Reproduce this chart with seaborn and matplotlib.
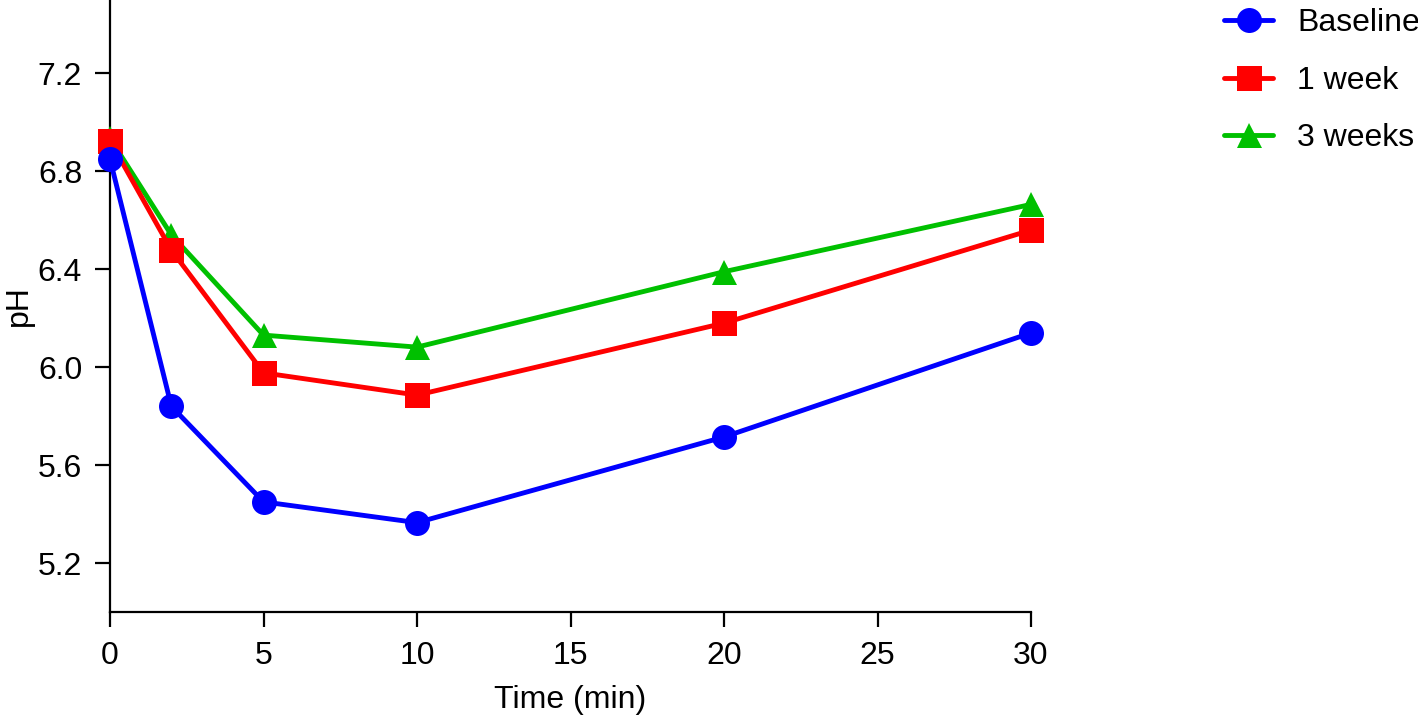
import matplotlib
matplotlib.use("Agg")
import matplotlib.pyplot as plt
import seaborn as sns
import pandas as pd

time_min = [0, 2, 5, 10, 20, 30]
baseline = [6.85, 5.84, 5.45, 5.365, 5.715, 6.14]
one_week = [6.925, 6.478, 5.977, 5.886, 6.18, 6.56]
three_weeks = [6.935, 6.54, 6.131, 6.082, 6.39, 6.665]
series_names = ["Baseline", "1 week", "3 weeks"]
colors = ["#0000FF", "#FF0000", "#00C000"]
marker_shapes = ["o", "s", "^"]

sns.set_style("ticks")
plt.rcParams["font.family"] = ["Liberation Sans", "DejaVu Sans"]
plt.rcParams["text.color"] = "black"
plt.rcParams["axes.labelcolor"] = "black"

rows = []
for name, vals in zip(series_names, [baseline, one_week, three_weeks]):
    for t, v in zip(time_min, vals):
        rows.append({"Time": t, "pH": v, "Series": name})
df = pd.DataFrame(rows)

fig = plt.figure(figsize=(14.18, 7.17), dpi=100)
ax = fig.add_axes([110/1418, (717-612)/717, (1031-110)/1418, 612/717])

LW = 3.5
sns.lineplot(data=df, x="Time", y="pH", hue="Series", style="Series",
             hue_order=series_names, style_order=series_names,
             palette=dict(zip(series_names, colors)),
             markers=dict(zip(series_names, marker_shapes)),
             dashes=False, linewidth=LW, markersize=18, markeredgewidth=0,
             ax=ax, legend=False)
for i, ln in enumerate(ax.lines):
    ln.set_clip_on(False)
    ln.set_zorder(5 - i)

FS = 23
ax.set_xlim(0, 30)
ax.set_ylim(5.0, 7.5)
ax.set_xticks([0, 5, 10, 15, 20, 25, 30])
ax.set_yticks([5.2, 5.6, 6.0, 6.4, 6.8, 7.2])
ax.set_yticklabels(["5.2", "5.6", "6.0", "6.4", "6.8", "7.2"])
for s in ["top", "right"]:
    ax.spines[s].set_visible(False)
for s in ["left", "bottom"]:
    ax.spines[s].set_linewidth(1.6)
    ax.spines[s].set_color("black")
ax.tick_params(axis="both", length=11, width=1.6, labelsize=FS, colors="black")
ax.tick_params(axis="y", pad=9)
ax.tick_params(axis="x", pad=10)
ax.set_xlabel("Time (min)", fontsize=FS, labelpad=10, color="black")
ax.set_ylabel("pH", fontsize=FS, labelpad=3, color="black")

handles = [plt.Line2D([], [], color=c, marker=m, markersize=18, markeredgewidth=0, linewidth=LW)
           for c, m in zip(colors, marker_shapes)]
ax.legend(handles, series_names, loc="upper left", bbox_to_anchor=(1211/1418, 1.006),
          bbox_transform=fig.transFigure, frameon=False, fontsize=FS,
          handlelength=1.55, handletextpad=0.75, labelspacing=0.86, borderaxespad=0)
for t in ax.get_legend().get_texts():
    t.set_color("black")

fig.savefig("out.png", dpi=100)
